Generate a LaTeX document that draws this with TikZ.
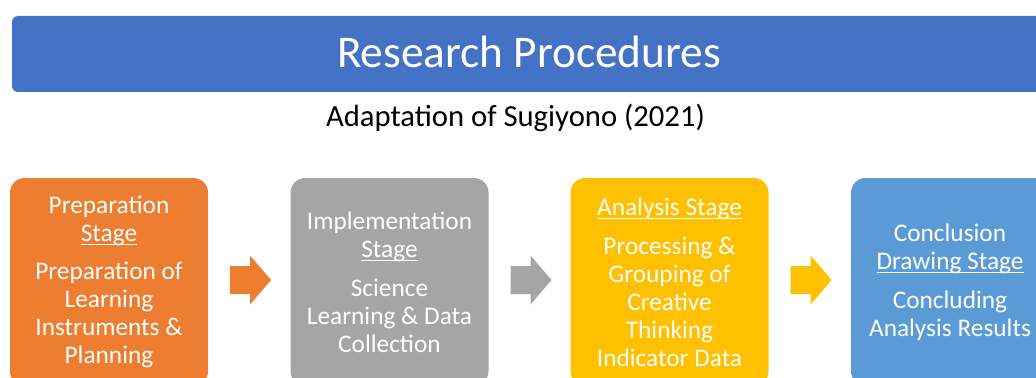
\documentclass[tikz,border=0pt]{standalone}
\usepackage{fontspec}
\setmainfont{Carlito}
\usetikzlibrary{positioning}

\definecolor{titleblue}{HTML}{4472C4}
\definecolor{prepcol}{HTML}{ED7D31}
\definecolor{implcol}{HTML}{A5A5A5}
\definecolor{anacol}{HTML}{FFC000}
\definecolor{conccol}{HTML}{5B9BD5}

% underlined stage heading
\newcommand{\stageline}[1]{{\setbox0\hbox{#1}\rlap{\rule[-3pt]{\wd0}{1.1pt}}\box0}}

\begin{document}
\begin{tikzpicture}[x=0.75pt, y=-0.75pt,
    stage/.style={rounded corners=11pt, minimum width=148.5pt, minimum height=156pt,
        inner sep=0pt, align=center, text=white, font=\fontsize{19}{21}\selectfont},
    blockarrow/.pic={\fill (-20.5,-14) -- (-0.5,-14) -- (-0.5,-24.5) -- (20.5,0)
        -- (-0.5,24.5) -- (-0.5,14) -- (-20.5,14) -- cycle;}]
        \useasboundingbox (0,0) rectangle (1036,378);
        \clip (0,0) rectangle (1036,378);

        % heading
        \node (bar) at (534,54) [fill=titleblue, rounded corners=4.5pt, minimum width=783pt, minimum height=57pt] {};
        \node (title) at (529,52) [text=white, font=\fontsize{34}{40}\selectfont] {Research Procedures};
        \node (source) at (515.5,118) [font=\fontsize{23}{27}\selectfont] {Adaptation of Sugiyono (2021)};

        % stages
        \node (prep) at (109,282) [stage, fill=prepcol] {Preparation\\\stageline{Stage}\\[8pt]Preparation of\\Learning\\Instruments \&\\Planning};
        \node (impl) at (389.5,282) [stage, fill=implcol] {Implementation\\\stageline{Stage}\\[8pt]Science\\Learning \& Data\\Collection};
        \node (ana) at (669.5,282) [stage, fill=anacol] {\stageline{Analysis Stage}\\[8pt]Processing \&\\Grouping of\\Creative\\Thinking\\Indicator Data};
        \node (conc) at (950,282) [stage, fill=conccol] {Conclusion\\\stageline{Drawing Stage}\\[8pt]Concluding\\Analysis Results};

        % arrows between stages
        \pic[fill=prepcol] at (250.5,280) {blockarrow};
        \pic[fill=implcol] at (531,280) {blockarrow};
        \pic[fill=anacol] at (811,280) {blockarrow};
    \end{tikzpicture}
\end{document}
